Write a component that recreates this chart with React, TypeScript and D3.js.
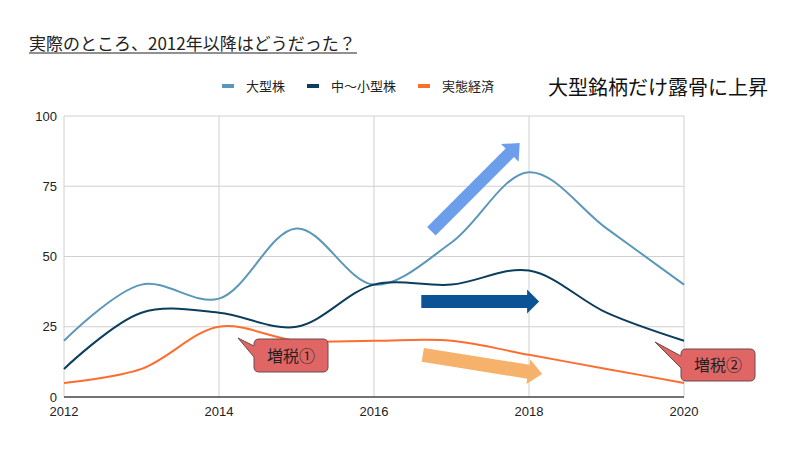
import React from "react";
import * as d3 from "d3";

const years = [2012, 2013, 2014, 2015, 2016, 2017, 2018, 2019, 2020];
const largeCap = [20, 40, 35, 60, 40, 55, 80, 60, 40];
const smallMidCap = [10, 30, 30, 25, 40, 40, 45, 30, 20];
const realEconomy = [5, 10, 25, 20, 20, 20, 15, 10, 5];
const seriesNames = ["大型株", "中〜小型株", "実態経済"];
const seriesColors = ["#5b97b8", "#0b3d5c", "#ff6d2e"];
const xTicks = [2012, 2014, 2016, 2018, 2020];
const yTicks = [0, 25, 50, 75, 100];

// annotation arrows in data space: [fromYear, fromValue, toYear, toValue]
const arrows = [
  { from: [2016.74, 59], to: [2017.88, 90.4], color: "#6d9eeb", shaft: 12, head: 25, headLen: 14 },
  { from: [2016.61, 34], to: [2018.13, 34], color: "#0b5394", shaft: 13, head: 24, headLen: 12 },
  { from: [2016.63, 15], to: [2018.17, 8.2], color: "#f6b26b", shaft: 14, head: 25, headLen: 14 },
];

const W = 800;
const H = 456;
const left = 64;
const right = 684;
const top = 116;
const bottom = 397;

const FONT_JP = "'Noto Sans CJK JP', 'Noto Sans', sans-serif";
const FONT_AX = "'Liberation Sans', Arial, sans-serif";

function arrowPath(x1: number, y1: number, x2: number, y2: number, sw: number, hw: number, hl: number) {
  const dx = x2 - x1;
  const dy = y2 - y1;
  const len = Math.hypot(dx, dy);
  const ux = dx / len;
  const uy = dy / len;
  const px = -uy;
  const py = ux;
  const bx = x2 - ux * hl;
  const by = y2 - uy * hl;
  const pts = [
    [x1 + px * sw / 2, y1 + py * sw / 2],
    [bx + px * sw / 2, by + py * sw / 2],
    [bx + px * hw / 2, by + py * hw / 2],
    [x2, y2],
    [bx - px * hw / 2, by - py * hw / 2],
    [bx - px * sw / 2, by - py * sw / 2],
    [x1 - px * sw / 2, y1 - py * sw / 2],
  ];
  return "M" + pts.map((p) => p[0].toFixed(1) + "," + p[1].toFixed(1)).join("L") + "Z";
}

function calloutPath(x0: number, y0: number, x1: number, y1: number, r: number, tx: number, ty: number, t0: number, t1: number) {
  return [
    `M${x0 + r},${y0}`,
    `L${x1 - r},${y0}`,
    `Q${x1},${y0} ${x1},${y0 + r}`,
    `L${x1},${y1 - r}`,
    `Q${x1},${y1} ${x1 - r},${y1}`,
    `L${x0 + r},${y1}`,
    `Q${x0},${y1} ${x0},${y1 - r}`,
    `L${x0},${t1}`,
    `L${tx},${ty}`,
    `L${x0},${t0}`,
    `L${x0},${y0 + r}`,
    `Q${x0},${y0} ${x0 + r},${y0}`,
    "Z",
  ].join(" ");
}

export default function App() {
  const x = d3.scaleLinear().domain([2012, 2020]).range([left, right]);
  const y = d3.scaleLinear().domain([0, 100]).range([bottom, top]);
  const series = [largeCap, smallMidCap, realEconomy];
  const line = d3
    .line<number>()
    .x((_, i) => x(years[i]))
    .y((d) => y(d))
    .curve(d3.curveCatmullRom.alpha(0.5));

  const legendItems = [
    { sx: 222, tx: 246 },
    { sx: 307, tx: 331 },
    { sx: 418, tx: 442 },
  ];

  return (
    <svg
      width={W}
      height={H}
      style={{ position: "absolute", left: 0, top: 0, background: "#fff" }}
    >
      <rect x={0} y={0} width={W} height={H} fill="#fff" />
      {/* title */}
      <text x={29} y={50} fontFamily={FONT_JP} fontSize={17} fill="#222">
        実際のところ、2012年以降はどうだった？
      </text>
      <line x1={29} x2={357} y1={53} y2={53} stroke="#222" strokeWidth={1.2} />

      {/* grid */}
      {yTicks.filter((t) => t > 0).map((t) => (
        <line key={"h" + t} x1={left} x2={right} y1={y(t)} y2={y(t)} stroke="#d0d0d0" strokeWidth={1} />
      ))}
      {xTicks.map((t) => (
        <line key={"v" + t} x1={x(t)} x2={x(t)} y1={top} y2={bottom} stroke="#d0d0d0" strokeWidth={1} />
      ))}
      <line x1={left} x2={right} y1={bottom} y2={bottom} stroke="#444" strokeWidth={1.5} />

      {/* axis labels */}
      {yTicks.map((t) => (
        <text key={"yl" + t} x={57} y={y(t) + 4.5} textAnchor="end" fontFamily={FONT_AX} fontSize={13} fill="#222">
          {t}
        </text>
      ))}
      {xTicks.map((t) => (
        <text key={"xl" + t} x={x(t)} y={416} textAnchor="middle" fontFamily={FONT_AX} fontSize={13} fill="#222">
          {t}
        </text>
      ))}

      {/* lines */}
      {series.map((s, i) => (
        <path key={"s" + i} d={line(s) || ""} fill="none" stroke={seriesColors[i]} strokeWidth={2} />
      ))}

      {/* legend */}
      {seriesNames.map((n, i) => (
        <g key={"lg" + i}>
          <rect x={legendItems[i].sx} y={84} width={12} height={4} fill={seriesColors[i]} />
          <text x={legendItems[i].tx} y={90.5} fontFamily={FONT_JP} fontSize={13} fill="#222">
            {n}
          </text>
        </g>
      ))}

      <text x={548} y={95} fontFamily={FONT_JP} fontSize={20} fill="#111">
        大型銘柄だけ露骨に上昇
      </text>

      {/* arrows */}
      {arrows.map((a, i) => (
        <path
          key={"a" + i}
          d={arrowPath(x(a.from[0]), y(a.from[1]), x(a.to[0]), y(a.to[1]), a.shaft, a.head, a.headLen)}
          fill={a.color}
        />
      ))}

      {/* callouts */}
      <path d={calloutPath(254, 339, 328, 372, 5, 238, 338, 346, 357)} fill="#e06666" stroke="#6b4a4a" strokeWidth={1} />
      <text x={291} y={362} textAnchor="middle" fontFamily={FONT_JP} fontSize={16} fill="#222">
        増税①
      </text>
      <path d={calloutPath(681, 349, 755, 381, 5, 655, 342, 356, 368)} fill="#e06666" stroke="#6b4a4a" strokeWidth={1} />
      <text x={718} y={371} textAnchor="middle" fontFamily={FONT_JP} fontSize={16} fill="#222">
        増税②
      </text>
    </svg>
  );
}
